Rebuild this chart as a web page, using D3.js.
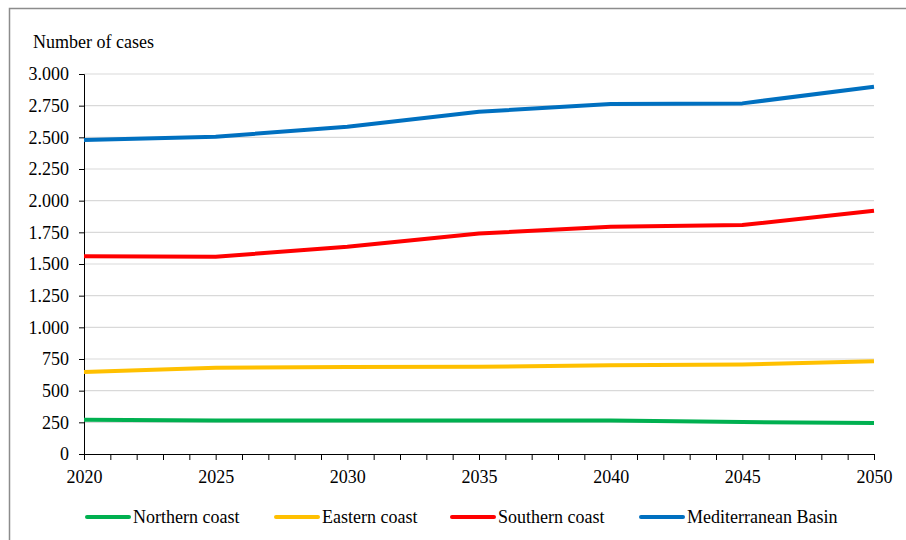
<!DOCTYPE html>
<html>
<head>
<meta charset="utf-8">
<script src="https://cdn.jsdelivr.net/npm/d3@7"></script>
<style>
  svg text { font-family: "Times New Roman", Tinos, "Liberation Serif", serif !important; }
</style>
</head>
<body style="margin:0">
<div id="chart"></div>
<script>
// Data
const years = [2020, 2025, 2030, 2035, 2040, 2045, 2050];
const northernCoast = [270, 265, 265, 265, 264, 252, 245];
const easternCoast = [648, 680, 687, 688, 700, 706, 733];
const southernCoast = [1562, 1557, 1636, 1740, 1794, 1807, 1920];
const mediterraneanBasin = [2478, 2505, 2584, 2702, 2763, 2768, 2900];
const seriesNames = ["Northern coast", "Eastern coast", "Southern coast", "Mediterranean Basin"];
const seriesColors = ["#00B050", "#FFC000", "#FF0000", "#0070C0"];
const yTicks = [0, 250, 500, 750, 1000, 1250, 1500, 1750, 2000, 2250, 2500, 2750, 3000];

const width = 906;
const height = 540;
const margin = {top: 74, right: 32, bottom: 86, left: 84};
const fontSize = 18;

const series = [northernCoast, easternCoast, southernCoast, mediterraneanBasin];

const fmt = d3.formatLocale({decimal: ",", thousands: ".", grouping: [3], currency: ["", ""]}).format(",");

const svg = d3.select("#chart").append("svg")
    .attr("width", width)
    .attr("height", height);

// outer frame
svg.append("rect")
    .attr("x", 9.5)
    .attr("y", 8.5)
    .attr("width", width)
    .attr("height", height)
    .attr("fill", "none")
    .attr("stroke", "#8c8c8c")
    .attr("stroke-width", 1.5);

const x = d3.scaleLinear()
    .domain([2020, 2050])
    .range([margin.left, width - margin.right]);

const y = d3.scaleLinear()
    .domain([0, 3000])
    .range([height - margin.bottom, margin.top]);

// gridlines
svg.append("g")
  .selectAll("line")
  .data(yTicks.filter(d => d > 0))
  .join("line")
    .attr("x1", x(2020))
    .attr("x2", x(2050))
    .attr("y1", d => y(d))
    .attr("y2", d => y(d))
    .attr("stroke", "#d9d9d9")
    .attr("stroke-width", 1.2);

// axes
const yAxis = d3.axisLeft(y)
    .tickValues(yTicks)
    .tickSize(5)
    .tickPadding(10)
    .tickFormat(d => fmt(d));

const gy = svg.append("g")
    .attr("transform", `translate(${margin.left},0)`)
    .call(yAxis)
    .attr("font-family", "Times New Roman")
    .attr("font-size", fontSize);
gy.selectAll("text").attr("fill", "#000");
gy.selectAll("line, path").attr("stroke", "#000");

const xAxis = d3.axisBottom(x)
    .tickValues(d3.range(2020, 2051))
    .tickSize(6)
    .tickSizeOuter(0)
    .tickPadding(10)
    .tickFormat(d => d % 5 === 0 ? d : "");

const gx = svg.append("g")
    .attr("transform", `translate(0,${height - margin.bottom})`)
    .call(xAxis)
    .attr("font-family", "Times New Roman")
    .attr("font-size", fontSize);
gx.selectAll("text").attr("fill", "#000");
gx.selectAll("line, path").attr("stroke", "#000");

// axis title
svg.append("text")
    .attr("x", 33)
    .attr("y", 48)
    .attr("font-size", fontSize)
    .text("Number of cases");

// lines
const line = d3.line()
    .x((d, i) => x(years[i]))
    .y(d => y(d));

svg.append("g")
  .selectAll("path")
  .data(series)
  .join("path")
    .attr("d", d => line(d))
    .attr("fill", "none")
    .attr("stroke", (d, i) => seriesColors[i])
    .attr("stroke-width", 4)
    .attr("stroke-linejoin", "round");

// legend
const legendX = [87, 276, 452, 641];
const legendY = 517;

const legend = svg.append("g")
  .selectAll("g")
  .data(seriesNames)
  .join("g")
    .attr("transform", (d, i) => `translate(${legendX[i]},${legendY})`);

legend.append("line")
    .attr("x1", 0)
    .attr("x2", 42)
    .attr("stroke", (d, i) => seriesColors[i])
    .attr("stroke-width", 4)
    .attr("stroke-linecap", "round");

legend.append("text")
    .attr("x", 46)
    .attr("dy", "0.33em")
    .attr("font-size", fontSize)
    .text(d => d);
</script>
</body>
</html>
